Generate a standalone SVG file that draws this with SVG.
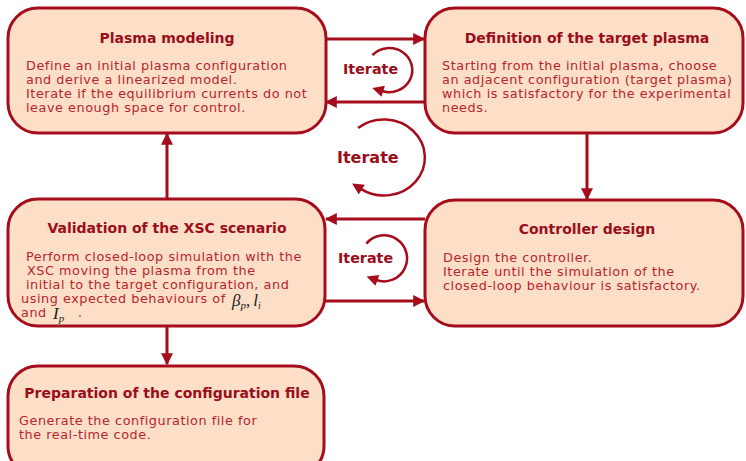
<svg xmlns="http://www.w3.org/2000/svg" width="746" height="461" viewBox="0 0 746 461">
<defs>
<style>
.box{fill:#fddfc7;stroke:#a50d1d;stroke-width:3}
.title{font-family:"DejaVu Sans",Verdana,sans-serif;font-weight:bold;font-size:14px;fill:#9b0d1b;text-anchor:middle}
.body{font-family:"DejaVu Sans",Verdana,sans-serif;font-size:12.8px;letter-spacing:0.55px;fill:#b8232d}
.it{font-family:"DejaVu Sans",Verdana,sans-serif;font-weight:bold;font-size:14.3px;fill:#9b0d1b}
.math{font-family:"Liberation Serif","Times New Roman",serif;font-style:italic;fill:#222}
.ln{stroke:#a50d1d;stroke-width:3;fill:none}
.arc{stroke:#a50d1d;stroke-width:2.5;fill:none}
</style>
<marker id="ah" viewBox="0 0 10 10" refX="9" refY="5" markerWidth="4.2" markerHeight="4" orient="auto" markerUnits="strokeWidth">
<path d="M0,0 L10,5 L0,10 z" fill="#a50d1d"/>
</marker>
<marker id="ahs" viewBox="0 0 10 10" refX="1" refY="5" markerWidth="5.2" markerHeight="4.6" orient="auto" markerUnits="strokeWidth">
<path d="M0,0 L10,5 L0,10 z" fill="#a50d1d"/>
</marker>
</defs>
<g id="connectors">
<line class="ln" x1="326" y1="39" x2="424" y2="39" marker-end="url(#ah)"/>
<line class="ln" x1="425" y1="102" x2="326" y2="102" marker-end="url(#ah)"/>
<line class="ln" x1="425" y1="219" x2="326" y2="219" marker-end="url(#ah)"/>
<line class="ln" x1="326" y1="301" x2="424" y2="301" marker-end="url(#ah)"/>
<line class="ln" x1="167" y1="198" x2="167" y2="134" marker-end="url(#ah)"/>
<line class="ln" x1="587" y1="133" x2="587" y2="199" marker-end="url(#ah)"/>
<line class="ln" x1="167" y1="327" x2="167" y2="364" marker-end="url(#ah)"/>
<path class="arc" d="M372.4,55.2 A23,22 0 1 1 382.1,91" marker-end="url(#ahs)"/>
<path class="arc" d="M358,128 A41,38 0 1 1 360.8,188.9" marker-end="url(#ahs)"/>
<path class="arc" d="M366.4,243.6 A23,23 0 1 1 376.3,280" marker-end="url(#ahs)"/>
<text class="it" x="343" y="74">Iterate</text>
<text class="it" x="337" y="163" style="font-size:16px">Iterate</text>
<text class="it" x="338" y="263">Iterate</text>
</g>
<g id="plasma-modeling">
<rect class="box" x="8" y="8" width="318" height="125" rx="30"/>
<text class="title" x="167" y="43">Plasma modeling</text>
<text class="body" x="26" y="70">Define an initial plasma configuration</text>
<text class="body" x="26" y="84">and derive a linearized model.</text>
<text class="body" x="26" y="98">Iterate if the equilibrium currents do not</text>
<text class="body" x="26" y="112">leave enough space for control.</text>
</g>
<g id="target-plasma">
<rect class="box" x="425" y="8" width="318" height="125" rx="30"/>
<text class="title" x="587" y="43">Definition of the target plasma</text>
<text class="body" x="442" y="70">Starting from the initial plasma, choose</text>
<text class="body" x="442" y="84">an adjacent configuration (target plasma)</text>
<text class="body" x="442" y="98">which is satisfactory for the experimental</text>
<text class="body" x="442" y="112">needs.</text>
</g>
<g id="validation">
<rect class="box" x="8" y="199" width="317" height="127" rx="30"/>
<text class="title" x="167" y="233">Validation of the XSC scenario</text>
<text class="body" x="26" y="261">Perform closed-loop simulation with the</text>
<text class="body" x="27" y="275">XSC moving the plasma from the</text>
<text class="body" x="26" y="289">initial to the target configuration, and</text>
<text class="body" x="21" y="303">using expected behaviours of</text>
<text class="math" x="232" y="306" style="font-size:17px">β<tspan font-size="11" dy="3">p</tspan><tspan dy="-3" font-style="normal">,</tspan><tspan dx="3">l</tspan><tspan font-size="10" dy="3">i</tspan></text>
<text class="body" x="21" y="317">and</text>
<text class="math" x="53" y="319" style="font-size:17px">I<tspan font-size="11" dy="3">p</tspan></text>
<text class="body" x="78" y="317">.</text>
</g>
<g id="controller">
<rect class="box" x="425" y="200" width="318" height="126" rx="30"/>
<text class="title" x="587" y="234">Controller design</text>
<text class="body" x="443" y="262">Design the controller.</text>
<text class="body" x="443" y="276">Iterate until the simulation of the</text>
<text class="body" x="443" y="290">closed-loop behaviour is satisfactory.</text>
</g>
<g id="preparation">
<rect class="box" x="8" y="366" width="316" height="110" rx="30"/>
<text class="title" x="167" y="398">Preparation of the configuration file</text>
<text class="body" x="19" y="425">Generate the configuration file for</text>
<text class="body" x="19" y="439">the real-time code.</text>
</g>
</svg>
